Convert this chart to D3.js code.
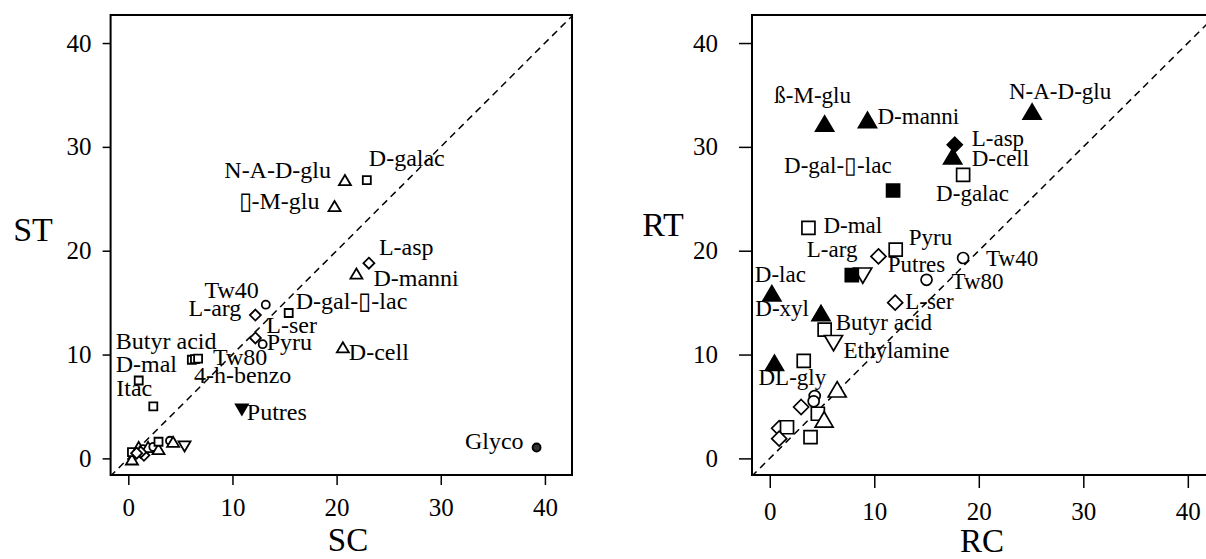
<html>
<head>
<meta charset="utf-8">
<title>ST vs SC, RT vs RC</title>
<style>
body { margin: 0; background: #fff; }
svg text { font-family: "Liberation Serif", "Times New Roman", serif; fill: #000; }
</style>
</head>
<body>
<script src="https://cdn.jsdelivr.net/npm/d3@7/dist/d3.min.js"></script>
<svg id="chart"></svg>
<script>

// ---- left panel: SC (x) vs ST (y) ----
var stNames = ["N-A-D-glu", "D-galac", "\u25AF-M-glu", "L-asp", "D-manni", "Tw40", "L-arg",
  "D-gal-\u25AF-lac", "L-ser", "Pyru", "D-cell", "Butyr acid", "Tw80", "4-h-benzo", "D-mal",
  "Itac", "Putres", "Glyco",
  "", "", "", "", "", "", "", "", "", "", "", "", "", ""];
var stSC = [20.8, 22.9, 19.8, 23.1, 21.9, 13.2, 12.2, 15.4, 12.2, 12.9, 20.6, 6.1, 6.4, 6.7, 1.0,
  2.4, 10.9, 39.2,
  0.35, 0.35, 1.0, 1.5, 1.4, 1.9, 2.4, 2.9, 2.9, 4.0, 4.3, 5.4, 1.2, 0.8];
var stST = [26.8, 26.8, 24.3, 18.8, 17.8, 14.8, 13.8, 14.0, 11.6, 11.0, 10.7, 9.5, 9.55, 9.6, 7.5,
  5.0, 4.7, 1.05,
  -0.1, 0.6, 1.1, 0.3, 0.9, 1.1, 1.1, 0.9, 1.6, 1.7, 1.6, 1.15, 0.6, 0.5];
var stShape = ["up", "square", "up", "diamond", "up", "circle", "diamond", "square", "diamond",
  "circle", "up", "square", "square", "square", "square", "square", "down", "circle",
  "up", "square", "up", "diamond", "circle", "up", "circle", "up", "square", "circle", "up",
  "down", "diamond", "diamond"];
var stFilled = stNames.map(function(d, i) { return i == 16 || i == 17; });

// ---- right panel: RC (x) vs RT (y) ----
var rtNames = ["\u00DF-M-glu", "D-manni", "N-A-D-glu", "L-asp", "D-cell", "D-galac",
  "D-gal-\u25AF-lac", "D-mal", "Pyru", "L-arg", "Putres", "Tw40", "Tw80", "D-lac", "L-ser",
  "D-xyl", "Butyr acid", "Ethylamine", "DL-gly",
  "", "", "", "", "", "", "", "", "", "", "", ""];
var rtRC = [5.25, 9.35, 25.1, 17.7, 17.5, 18.5, 11.8, 3.7, 12.05, 10.4, 8.9, 18.5, 15.0, 0.2,
  12.0, 4.9, 5.25, 6.1, 0.45,
  7.85, 3.25, 6.45, 4.3, 4.2, 3.0, 4.6, 5.2, 0.9, 1.65, 0.9, 3.9];
var rtRT = [32.25, 32.6, 33.4, 30.2, 29.1, 27.3, 25.8, 22.2, 20.1, 19.45, 17.6, 19.3, 17.2, 15.9,
  15.0, 14.0, 12.4, 11.1, 9.2,
  17.65, 9.4, 6.65, 6.0, 5.5, 4.95, 4.3, 3.75, 2.9, 3.0, 1.9, 2.05];
var rtShape = ["up", "up", "up", "diamond", "up", "square", "square", "square", "square",
  "diamond", "down", "circle", "circle", "up", "diamond", "up", "square", "down", "up",
  "square", "square", "up", "circle", "circle", "diamond", "square", "up", "diamond", "square",
  "diamond", "square"];
var rtFilled = [true, true, true, true, true, false, true, false, false, false, false, false,
  false, true, false, true, false, false, true,
  true, false, false, false, false, false, false, false, false, false, false, false];

var tickValues = [0, 10, 20, 30, 40];

// label placement (pixel offsets from the marker, anchor)
var stLabelPos = [[-14, -2, "end"], [2, -14, "start"], [-15, 3, "end"], [10, -8, "start"],
  [17, 12, "start"], [-7, -7, "end"], [-14, 1, "end"], [7, -4, "start"], [11, -5, "start"],
  [4, 6, "start"], [6, 13, "start"], [-76, -11, "start"], [18, 6, "start"], [-4, 24, "start"],
  [-23, -9, "start"], [-37, -10, "start"], [5, 10, "start"], [-13, 2, "end"]];
var rtLabelPos = [[-12, -21, "middle"], [10, 4, "start"], [28, -13, "middle"], [17, 1, "start"],
  [19, 10, "start"], [-27, 26, "start"], [-1.5, -17, "end"], [15, 5, "start"], [13, -5, "start"],
  [-21, 1, "end"], [25, -4, "start"], [23, 8, "start"], [25, 9, "start"], [-17, -11, "start"],
  [10, 6, "start"], [-12, 3, "end"], [11, 0, "start"], [10, 15, "start"], [-16, 22, "start"]];

var svg = d3.select("#chart").attr("width", 1206).attr("height", 559);

function shapePath(shape, sz) {
  var p = d3.path();
  if (shape == "square") {
    p.rect(-sz.sq / 2, -sz.sq / 2, sz.sq, sz.sq);
  } else if (shape == "up" || shape == "down") {
    var w = sz.tri, h = w * 0.85, s = shape == "up" ? 1 : -1;
    p.moveTo(0, -s * h / 2); p.lineTo(w / 2, s * h / 2); p.lineTo(-w / 2, s * h / 2); p.closePath();
  } else if (shape == "diamond") {
    var d = sz.dia;
    p.moveTo(0, -d); p.lineTo(d, 0); p.lineTo(0, d); p.lineTo(-d, 0); p.closePath();
  } else {
    p.moveTo(sz.circ, 0); p.arc(0, 0, sz.circ, 0, 2 * Math.PI);
  }
  return p.toString();
}

function panel(opt) {
  var x = d3.scaleLinear().domain([-1.7, 42.6]).range([opt.left, opt.right]);
  var y = d3.scaleLinear().domain([-1.6, 42.7]).range([475, 15]);
  var g = svg.append("g");

  var clipId = "clip" + opt.id;
  g.append("clipPath").attr("id", clipId).append("rect")
    .attr("x", opt.left).attr("y", 15).attr("width", opt.right - opt.left).attr("height", 460);

  // 1:1 line
  g.append("line").attr("clip-path", "url(#" + clipId + ")")
    .attr("x1", x(-5)).attr("y1", y(-5)).attr("x2", x(50)).attr("y2", y(50))
    .attr("stroke", "#000").attr("stroke-width", 1.5).attr("stroke-dasharray", "7,5");

  var ya = g.append("g").attr("transform", "translate(" + opt.left + ",0)")
    .call(d3.axisLeft(y).tickValues(tickValues).tickSize(opt.ytick).tickPadding(opt.ypad));
  var xa = g.append("g").attr("transform", "translate(0,475)")
    .call(d3.axisBottom(x).tickValues(tickValues).tickSize(opt.xtick).tickPadding(opt.xpad));
  [ya, xa].forEach(function(a) {
    a.select(".domain").remove();
    a.selectAll("line").attr("stroke", "#000").attr("stroke-width", 1.5);
    a.selectAll("text").attr("font-size", 25);
  });

  g.append("rect").attr("x", opt.left).attr("y", 15)
    .attr("width", opt.right - opt.left).attr("height", 460)
    .attr("fill", "none").attr("stroke", "#000").attr("stroke-width", 2);

  g.append("text").attr("x", opt.ytx).attr("y", opt.yty).attr("text-anchor", "middle")
    .attr("font-size", 34).text(opt.ytitle);
  g.append("text").attr("x", opt.xtx).attr("y", opt.xty).attr("text-anchor", "middle")
    .attr("font-size", 33).text(opt.xtitle);

  var idx = d3.range(opt.names.length);
  g.selectAll("path.pt").data(idx).enter().append("path")
    .attr("class", "pt")
    .attr("transform", function(i) { return "translate(" + x(opt.xs[i]) + "," + y(opt.ys[i]) + ")"; })
    .attr("d", function(i) { return shapePath(opt.shapes[i], opt.sz); })
    .attr("fill", function(i) { return opt.filled[i] ? (opt.shapes[i] == "circle" ? "#333" : "#000") : "#fff"; })
    .attr("stroke", "#000").attr("stroke-width", opt.sw);

  g.selectAll("text.lab").data(idx.filter(function(i) { return opt.names[i] != ""; })).enter()
    .append("text").attr("class", "lab")
    .attr("x", function(i) { return x(opt.xs[i]) + opt.pos[i][0]; })
    .attr("y", function(i) { return y(opt.ys[i]) + opt.pos[i][1]; })
    .attr("text-anchor", function(i) { return opt.pos[i][2]; })
    .attr("font-size", opt.fs)
    .text(function(i) { return opt.names[i]; });
}

panel({id: "L", left: 110.6, right: 572, ytick: 8, ypad: 11, xtick: 10, xpad: 13,
  names: stNames, xs: stSC, ys: stST, shapes: stShape, filled: stFilled, pos: stLabelPos,
  sz: {sq: 8, tri: 12, dia: 5.5, circ: 4}, sw: 1.8, fs: 24,
  ytitle: "ST", ytx: 33, yty: 241, xtitle: "SC", xtx: 348, xty: 551});

panel({id: "R", left: 752, right: 1215, ytick: 13, ypad: 21, xtick: 13, xpad: 14,
  names: rtNames, xs: rtRC, ys: rtRT, shapes: rtShape, filled: rtFilled, pos: rtLabelPos,
  sz: {sq: 13, tri: 18, dia: 7.5, circ: 5.5}, sw: 1.7, fs: 23,
  ytitle: "RT", ytx: 663, yty: 236, xtitle: "RC", xtx: 982, xty: 552});

</script>
</body>
</html>
